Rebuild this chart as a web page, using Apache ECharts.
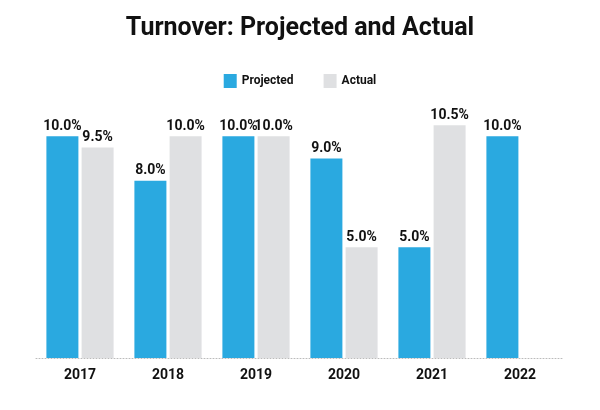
<!DOCTYPE html>
<html>
<head>
<meta charset="utf-8">
<script src="https://cdn.jsdelivr.net/npm/echarts@6/dist/echarts.min.js"></script>
<style>html,body{margin:0;padding:0;background:#fff;}#chart{width:600px;height:410px;}</style>
</head>
<body>
<div id="chart"></div>
<script>
var years = ['2017', '2018', '2019', '2020', '2021', '2022'];
var projected = [10.0, 8.0, 10.0, 9.0, 5.0, 10.0];
var actual = [9.5, 10.0, 10.0, 5.0, 10.5, null];

var chart = echarts.init(document.getElementById('chart'));
var labelStyle = {
  show: true, position: 'top', distance: 3,
  fontFamily: 'Roboto', fontWeight: 'bold', fontSize: 14, color: '#111',
  formatter: function (p) { return p.value == null ? '' : p.value.toFixed(1) + '%'; }
};
chart.setOption({
  animation: false,
  title: {
    text: 'Turnover: Projected and Actual', left: 'center', top: 11,
    textStyle: { fontFamily: 'Roboto', fontWeight: 'bold', fontSize: 25, color: '#111' }
  },
  legend: {
    top: 69, left: 'center', itemWidth: 13, itemHeight: 14, itemGap: 30,
    icon: 'rect',
    textStyle: { fontFamily: 'Roboto', fontWeight: 'bold', fontSize: 12, color: '#111' },
    data: ['Projected', 'Actual']
  },
  grid: { left: 36, right: 36, top: 92, bottom: 52, containLabel: false },
  xAxis: {
    type: 'category', data: years,
    axisLine: { show: true, lineStyle: { color: '#bbb', type: [1, 2], width: 1 } },
    axisTick: { show: false },
    axisLabel: { margin: 10, fontFamily: 'Roboto', fontWeight: 'bold', fontSize: 14, color: '#111' }
  },
  yAxis: { type: 'value', min: 0, max: 12, show: false, splitLine: { show: false } },
  series: [
    { name: 'Projected', type: 'bar', data: projected, barWidth: 32, barGap: '10%',
      itemStyle: { color: '#2aa9e0' }, label: labelStyle },
    { name: 'Actual', type: 'bar', data: actual, barWidth: 32,
      itemStyle: { color: '#dfe0e2' }, label: labelStyle }
  ]
});
</script>
</body>
</html>
